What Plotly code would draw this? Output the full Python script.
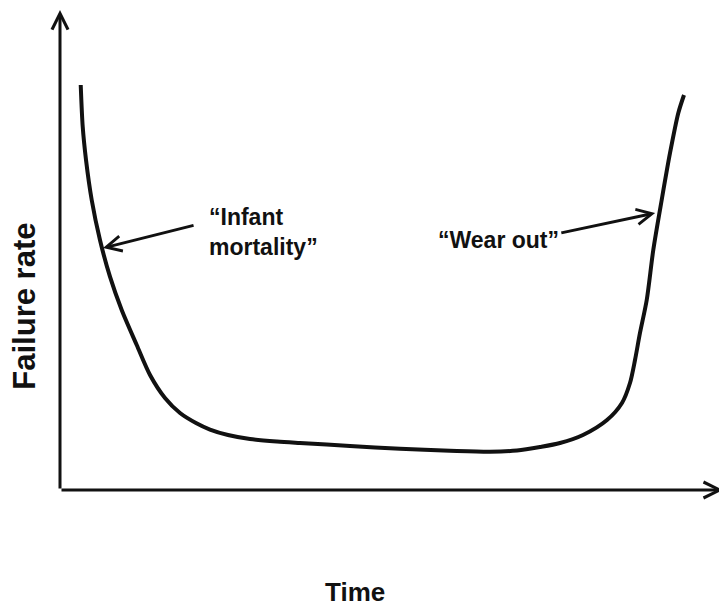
import plotly.graph_objects as go

# Bathtub curve (time in % of horizon, failure rate in % of axis height)
time_vals = [3.13, 3.43, 3.93, 4.79, 6.04, 7.55, 9.32, 11.59, 13.60, 15.86, 18.13, 20.54,
             22.66, 25.38, 28.70, 32.78, 36.25, 43.81, 51.36, 58.91, 64.95, 69.03, 72.51,
             75.53, 79.00, 82.63, 84.89, 86.10, 86.86, 87.61, 88.63, 89.62, 90.89, 92.15,
             93.40, 94.26]
rate_vals = [84.38, 75.69, 68.75, 60.42, 52.08, 44.44, 37.5, 30.21, 23.96, 19.17, 16.04, 13.96,
             12.60, 11.46, 10.63, 10.10, 9.79, 9.17, 8.60, 8.19, 7.98, 8.23, 8.96,
             9.79, 11.46, 14.58, 18.13, 22.29, 27.08, 32.71, 39.58, 50.0, 60.42, 70.21,
             78.54, 82.29]

# Callouts: label, text position, arrow tail, arrow tip
labels = ["\u201cInfant<br>mortality\u201d", "\u201cWear out\u201d"]
label_t = [22.2, 56.8]
label_r = [53.75, 52.1]
tail_t = [20.4, 75.5]
tail_r = [55.2, 53.5]
tip_t = [6.5, 89.9]
tip_r = [50.4, 57.7]

x_title = "Time"
y_title = "Failure rate"

FONT = "Liberation Sans, Arial, Helvetica, sans-serif"
INK = "#111111"

fig = go.Figure()
fig.add_trace(go.Scatter(
    x=time_vals, y=rate_vals, mode="lines",
    line=dict(color=INK, width=4, shape="spline", smoothing=0.8),
    hoverinfo="skip", showlegend=False,
))

annotations = []
# axis arrows
annotations.append(dict(xref="x domain", yref="y domain", x=0, y=1.0,
                        ax=0, ay=480, axref="pixel", ayref="pixel",
                        text="", showarrow=True, arrowhead=5, arrowsize=1.05,
                        arrowwidth=3, arrowcolor=INK))
annotations.append(dict(xref="x domain", yref="y domain", x=1.0015, y=0,
                        ax=-663, ay=0, axref="pixel", ayref="pixel",
                        text="", showarrow=True, arrowhead=5, arrowsize=1.05,
                        arrowwidth=3, arrowcolor=INK))
# callout arrows and labels
for i in range(len(labels)):
    annotations.append(dict(xref="x", yref="y", x=tip_t[i], y=tip_r[i],
                            ax=tail_t[i], ay=tail_r[i], axref="x", ayref="y",
                            text="", showarrow=True, arrowhead=5, arrowsize=1.0,
                            arrowwidth=3, arrowcolor=INK))
    annotations.append(dict(xref="x", yref="y", x=label_t[i], y=label_r[i],
                            text="<b>" + labels[i] + "</b>", showarrow=False,
                            xanchor="left", yanchor="middle", align="left",
                            font=dict(family=FONT, size=23, color=INK)))
# axis titles
annotations.append(dict(xref="x domain", yref="y domain", x=0.4456, y=-0.2125,
                        text="<b>" + x_title + "</b>", showarrow=False,
                        xanchor="center", yanchor="middle",
                        font=dict(family=FONT, size=26, color=INK)))
annotations.append(dict(xref="x domain", yref="y domain", x=-0.0536, y=0.383,
                        text="<b>" + y_title + "</b>", showarrow=False, textangle=-90,
                        xanchor="center", yanchor="middle",
                        font=dict(family=FONT, size=31, color=INK)))

# page body has an 8px margin: figure is sized/offset to land on the 727x610 window
fig.update_layout(
    width=719, height=602,
    margin=dict(l=52, r=5, t=2, b=120),
    paper_bgcolor="white", plot_bgcolor="white",
    xaxis=dict(range=[0, 100], showgrid=False, zeroline=False, showticklabels=False,
               showline=False, ticks="", fixedrange=True),
    yaxis=dict(range=[0, 100], showgrid=False, zeroline=False, showticklabels=False,
               showline=False, ticks="", fixedrange=True),
    annotations=annotations,
)

fig.write_html("out.html")
